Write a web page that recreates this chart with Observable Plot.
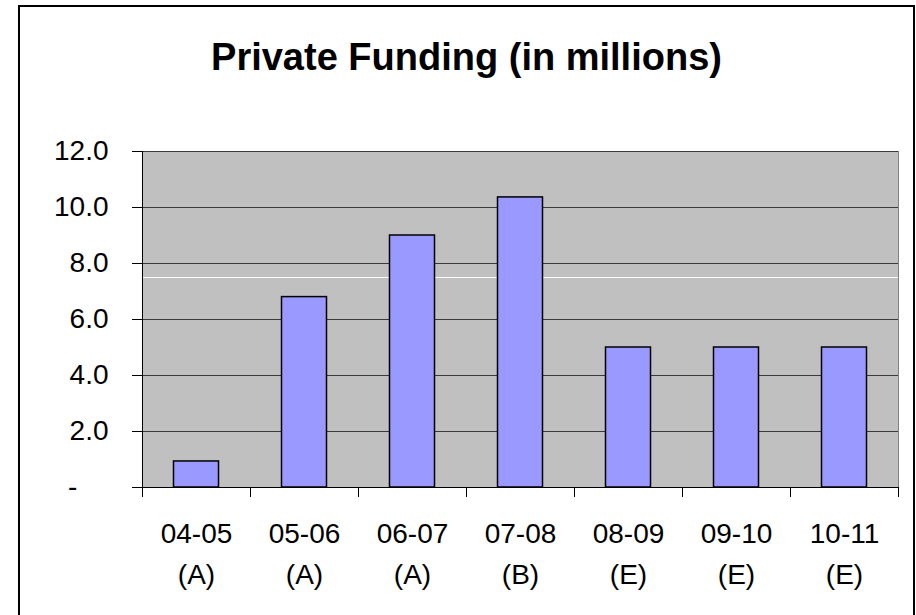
<!DOCTYPE html>
<html>
<head>
<meta charset="utf-8">
<script src="https://cdn.jsdelivr.net/npm/d3@7"></script>
<script src="https://cdn.jsdelivr.net/npm/@observablehq/plot@0.6"></script>
<style>
  body { margin: 0; background: #fff; }
  #wrap { position: relative; width: 916px; height: 615px; overflow: hidden; background: #fff; font-family: "Liberation Sans", Arial, sans-serif; }
  #border { position: absolute; left: 18px; top: 5px; width: 897px; height: 700px; box-sizing: border-box; border: 2px solid #000; }
  #title { position: absolute; left: 18px; width: 897px; top: 38px; text-align: center; font-size: 38px; font-weight: bold; line-height: 38px; color: #000; }
  #chart { position: absolute; left: 0; top: 0; }
</style>
</head>
<body>
<div id="wrap">
  <div id="border"></div>
  <div id="title">Private Funding (in millions)</div>
  <div id="chart"></div>
</div>
<script>
const categories = ["04-05", "05-06", "06-07", "07-08", "08-09", "09-10", "10-11"];
const statuses = ["(A)", "(A)", "(A)", "(B)", "(E)", "(E)", "(E)"];
const values = [0.93, 6.8, 9.0, 10.36, 5.0, 5.0, 5.0];
const yTicks = [0, 2, 4, 6, 8, 10, 12];
const whiteRule = [7.5];

const data = categories.map((c, i) => ({i0: i, i1: i + 1, mid: i + 0.5, label: c + "\n" + statuses[i], v: values[i]}));
const bounds = d3.range(categories.length + 1);

const chart = Plot.plot({
  width: 916,
  height: 615,
  marginTop: 151,
  marginBottom: 128,
  marginLeft: 142,
  marginRight: 18,
  style: {fontFamily: "'Liberation Sans', Arial, sans-serif", background: "transparent", overflow: "visible"},
  x: {type: "linear", domain: [0, categories.length], axis: null},
  y: {domain: [0, 12], axis: null},
  marks: [
    Plot.frame({fill: "#c0c0c0", stroke: "#808080"}),
    Plot.gridY(yTicks, {stroke: "#3a3a3a", strokeOpacity: 1, strokeWidth: 1}),
    Plot.ruleY(whiteRule, {stroke: "#ffffff", strokeWidth: 1}),
    Plot.rectY(data, {x1: "i0", x2: "i1", y: "v", fill: "#9999ff", stroke: "#000", strokeWidth: 1.5, insetLeft: 31.5, insetRight: 31.5}),
    Plot.ruleX([0], {stroke: "#000", strokeWidth: 1}),
    Plot.ruleY([0], {stroke: "#000", strokeWidth: 1}),
    Plot.axisX(bounds, {tickSize: 10, stroke: "#000", tickFormat: () => "", label: null}),
    Plot.axisY(yTicks, {tickSize: 10, tickPadding: 24, fontSize: 28, fill: "#000", stroke: "#000", label: null,
      tickFormat: d => d === 0 ? "-\u00a0\u00a0\u00a0\u00a0" : d.toFixed(1)}),
    Plot.text(data, {x: "mid", text: "label", frameAnchor: "bottom", lineAnchor: "top", dy: 27, fontSize: 28, lineHeight: 1.45, fill: "#000"})
  ]
});
document.getElementById("chart").appendChild(chart);
</script>
</body>
</html>
